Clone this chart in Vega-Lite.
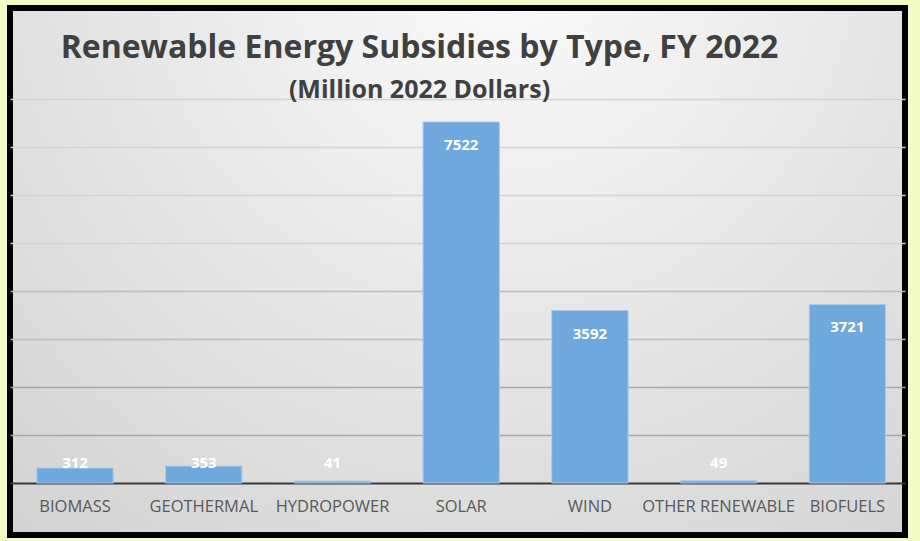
{
  "$schema": "https://vega.github.io/schema/vega-lite/v6.json",
  "autosize": "none",
  "padding": {"left": 10, "top": 8, "right": 15, "bottom": 6},
  "width": 895,
  "height": 527,
  "background": "#f3fbc6",
  "title": {
    "text": "Renewable Energy Subsidies by Type, FY 2022",
    "subtitle": "(Million 2022 Dollars)",
    "anchor": "middle",
    "dx": -38,
    "offset": -96,
    "font": "Open Sans",
    "fontSize": 32,
    "fontWeight": "bold",
    "color": "#404040",
    "subtitleFont": "Open Sans",
    "subtitleFontSize": 25,
    "subtitleFontWeight": "bold",
    "subtitleColor": "#404040",
    "subtitlePadding": 13
  },
  "config": {
    "view": {
      "stroke": "#000000",
      "strokeWidth": 6,
      "fill": {
        "gradient": "radial",
        "x1": 0.55, "y1": 0.15, "r1": 0,
        "x2": 0.55, "y2": 0.15, "r2": 0.85,
        "stops": [
          {"offset": 0, "color": "#fbfbfb"},
          {"offset": 1, "color": "#d2d2d2"}
        ]
      }
    }
  },
  "data": {
    "values": [
      {"type": "BIOMASS", "value": 312},
      {"type": "GEOTHERMAL", "value": 353},
      {"type": "HYDROPOWER", "value": 41},
      {"type": "SOLAR", "value": 7522},
      {"type": "WIND", "value": 3592},
      {"type": "OTHER RENEWABLE", "value": 49},
      {"type": "BIOFUELS", "value": 3721}
    ]
  },
  "encoding": {
    "x": {
      "field": "type",
      "type": "nominal",
      "sort": null,
      "scale": {"paddingInner": 0.407, "paddingOuter": 0.18, "align": 0.58},
      "axis": {
        "title": null,
        "orient": "bottom",
        "offset": -52,
        "labelAngle": 0,
        "labelFont": "Open Sans",
        "labelFontSize": 16.5,
        "labelColor": "#595959",
        "labelPadding": 15,
        "ticks": false,
        "tickSize": 0,
        "domainColor": "#3a3a3a",
        "domainWidth": 2,
        "grid": false
      }
    },
    "y": {
      "field": "value",
      "type": "quantitative",
      "scale": {"domain": [-1083, 9896], "nice": false, "zero": false},
      "axis": {
        "title": null,
        "values": [1000, 2000, 3000, 4000, 5000, 6000, 7000, 8000],
        "labels": false,
        "ticks": false,
        "domain": false,
        "grid": true,
        "gridWidth": 1.5,
        "gridColor": {"expr": "datum.value <= 2000 ? '#a8a8a8' : datum.value <= 4000 ? '#bdbdbd' : '#d4d4d4'"}
      }
    }
  },
  "layer": [
    {
      "mark": {"type": "bar", "color": "#6fa8dc", "stroke": "#a9cbec", "strokeWidth": 1}
    },
    {
      "transform": [{"filter": "datum.value >= 1000"}],
      "mark": {"type": "text", "color": "#ffffff", "font": "Open Sans", "fontSize": 15, "fontWeight": "bold", "baseline": "middle", "dy": 23},
      "encoding": {"text": {"field": "value", "type": "quantitative", "format": "d"}}
    },
    {
      "transform": [{"filter": "datum.value < 1000"}],
      "mark": {"type": "text", "color": "#ffffff", "font": "Open Sans", "fontSize": 15, "fontWeight": "bold", "baseline": "middle", "dy": -20},
      "encoding": {
        "y": {"datum": 0, "type": "quantitative"},
        "text": {"field": "value", "type": "quantitative", "format": "d"}
      }
    }
  ]
}
